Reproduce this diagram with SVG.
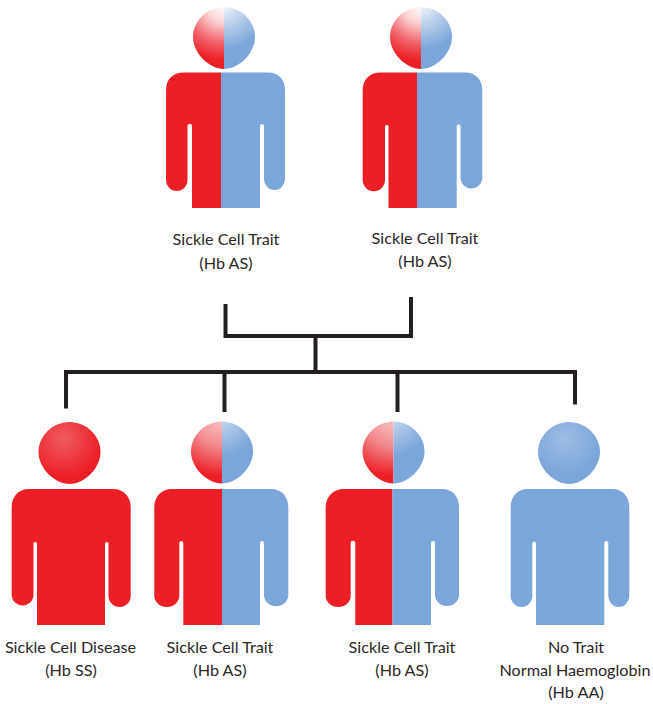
<svg xmlns="http://www.w3.org/2000/svg" width="653" height="704" viewBox="0 0 653 704">
<style>
.r{fill:#ed1f26}.b{fill:#7ba6da}
text{font-family:"Lato","Open Sans",sans-serif;font-size:16.2px;fill:#2b2627;text-anchor:middle}
#connectors path{fill:none;stroke:#231f20;stroke-width:4;stroke-linejoin:miter}
</style>
<defs>
<path id="head" d="M0,-31 C17,-31 31,-17 31,-1 C31,15 15,31 0,31 C-15,31 -31,15 -31,-1 C-31,-17 -17,-31 0,-31Z"/>
<radialGradient id="hr" gradientUnits="userSpaceOnUse" cx="0" cy="-33" r="62"><stop offset="0" stop-color="#fff"/><stop offset=".28" stop-color="#fbd6d6"/><stop offset=".62" stop-color="#f1616a"/><stop offset=".9" stop-color="#ed1f26"/></radialGradient>
<radialGradient id="hb" gradientUnits="userSpaceOnUse" cx="0" cy="-33" r="52"><stop offset="0" stop-color="#f4f8fc"/><stop offset=".4" stop-color="#b9cfeb"/><stop offset=".85" stop-color="#7ba6da"/></radialGradient>
<radialGradient id="hr2" gradientUnits="userSpaceOnUse" cx="0" cy="-36" r="66"><stop offset="0" stop-color="#f8c8c9"/><stop offset=".45" stop-color="#f28a8e"/><stop offset=".9" stop-color="#ed1f26"/></radialGradient>
<radialGradient id="hb2" gradientUnits="userSpaceOnUse" cx="0" cy="-33" r="36"><stop offset="0" stop-color="#c3d6ee"/><stop offset="1" stop-color="#7ba6da"/></radialGradient>
<radialGradient id="hs" gradientUnits="userSpaceOnUse" cx="-6" cy="-14" r="38"><stop offset="0" stop-color="#ef5b62"/><stop offset="1" stop-color="#ed1f26"/></radialGradient>
<radialGradient id="ha" gradientUnits="userSpaceOnUse" cx="-4" cy="-14" r="36"><stop offset="0" stop-color="#9dbde4"/><stop offset="1" stop-color="#7ba6da"/></radialGradient>
<clipPath id="cl"><rect x="-40" y="-40" width="40" height="80"/></clipPath>
<clipPath id="cr"><rect x="0" y="-40" width="40" height="80"/></clipPath>
</defs>
<g id="connectors">
<path d="M225.500,304V336H411V297"/>
<path d="M315.500,336V372"/>
<path d="M66,408.500V372H575V404.500"/>
<path d="M224.500,372V412"/>
<path d="M397.500,372V412"/>
</g>
<g id="parent-1">
<g transform="translate(221,38)"><use href="#head" x="3" fill="url(#hr)" clip-path="url(#cl)"/><use href="#head" x="3" fill="url(#hb)" clip-path="url(#cr)"/></g>
<path class="r" d="M221,72.500H184C172,72.500 166,80 166,90V180A10.700,11 0 0 0 187.500,180V126A2,2 0 0 1 192,126V208H221Z"/>
<path class="b" d="M221,72.500H268C279,72.500 285,80 285,90V179A10.500,11 0 0 1 264,179V126A2,2 0 0 0 260,126V208H221Z"/>
<text x="226" y="245">Sickle Cell Trait</text><text x="226" y="269">(Hb AS)</text>
</g>
<g id="parent-2">
<g transform="translate(417,38)"><use href="#head" x="4" fill="url(#hr)" clip-path="url(#cl)"/><use href="#head" x="4" fill="url(#hb)" clip-path="url(#cr)"/></g>
<path class="r" d="M417,72.500H381C369,72.500 362.700,80 362.700,90V180A11,11 0 0 0 385,180V126A2,2 0 0 1 388.500,126V208H417Z"/>
<path class="b" d="M417,72.500H465C476,72.500 482.300,80 482.300,90V179A11,11 0 0 1 460.500,179V126A2,2 0 0 0 456.700,126V208H417Z"/>
<text x="425" y="244">Sickle Cell Trait</text><text x="425" y="267">(Hb AS)</text>
</g>
<g id="child-ss">
<g transform="translate(69.500,453)"><use href="#head" fill="url(#hs)"/></g>
<path class="r" d="M29,489H113C124,489 130.700,497 130.700,507V596A11,11 0 0 1 108.500,596V543A2,2 0 0 0 105,543V625H37V543A2,2 0 0 0 33.500,543V596A11,11 0 0 1 11.700,596V507C11.700,497 18,489 29,489Z"/>
<text x="70.500" y="653">Sickle Cell Disease</text><text x="71" y="676">(Hb SS)</text>
</g>
<g id="child-as-1">
<g transform="translate(222,452.500)"><use href="#head" fill="url(#hr2)" clip-path="url(#cl)"/><use href="#head" fill="url(#hb2)" clip-path="url(#cr)"/></g>
<path class="r" d="M222,489H172C161,489 154.300,497 154.300,507V596A12.500,11 0 0 0 179.300,596V543A2,2 0 0 1 183.300,543V625H222Z"/>
<path class="b" d="M222,489H271C282,489 288.300,497 288.300,507V595A12,11 0 0 1 264,595V543A2,2 0 0 0 260,543V625H222Z"/>
<text x="220" y="653">Sickle Cell Trait</text><text x="220" y="676">(Hb AS)</text>
</g>
<g id="child-as-2">
<g transform="translate(392.500,452.500)"><use href="#head" x="1" fill="url(#hr2)" clip-path="url(#cl)"/><use href="#head" x="1" fill="url(#hb2)" clip-path="url(#cr)"/></g>
<path class="r" d="M392.500,489H344C333,489 325.700,497 325.700,507V596A12.500,11 0 0 0 350.700,596V543A2,2 0 0 1 355.300,543V625H392.500Z"/>
<path class="b" d="M392.500,489H442C453,489 459,497 459,507V595A12,11 0 0 1 435,595V543A2,2 0 0 0 431,543V625H392.500Z"/>
<text x="402" y="653">Sickle Cell Trait</text><text x="402" y="676">(Hb AS)</text>
</g>
<g id="child-aa">
<g transform="translate(569,453)"><use href="#head" fill="url(#ha)"/></g>
<path class="b" d="M528,489H612C623,489 629.300,497 629.300,507V596A10.500,11 0 0 1 608.300,596V543A2,2 0 0 0 604.300,543V625H536V543A2,2 0 0 0 532.300,543V596A10.800,11 0 0 1 510.700,596V507C510.700,497 517,489 528,489Z"/>
<text x="576" y="653">No Trait</text><text x="575" y="676">Normal Haemoglobin</text><text x="576" y="698">(Hb AA)</text>
</g>
</svg>
